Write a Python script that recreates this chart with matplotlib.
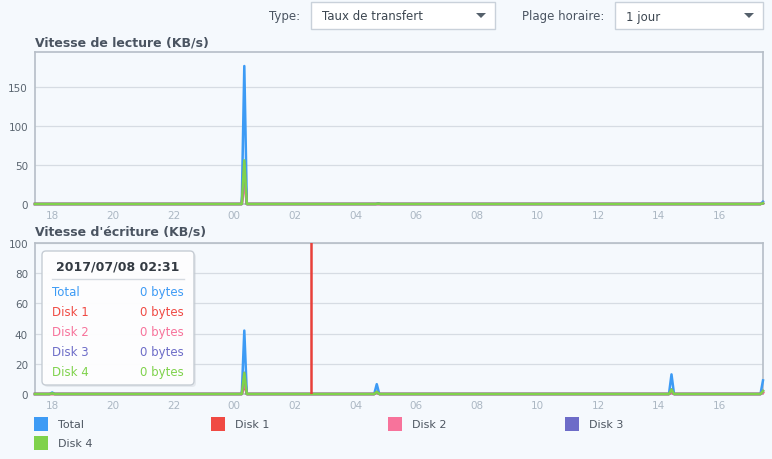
import matplotlib
matplotlib.use("Agg")
import matplotlib.pyplot as plt
from matplotlib.patches import FancyBboxPatch, Rectangle, Polygon

# ---------------- data ----------------
series_names = ["Total", "Disk 1", "Disk 2", "Disk 3", "Disk 4"]
series_colors = ["#3d9bf5", "#f04a43", "#f7739b", "#6d6cc8", "#7fd24b"]

# time stamps: "day HH:MM" (July 7 -> July 8, 2017)
range_start = "07 17:26"
range_end = "08 17:26"

# read speed (KB/s)
read_times = ["07 17:26", "08 00:15", "08 00:20", "08 00:25", "08 04:40", "08 04:45",
              "08 04:50", "08 17:21", "08 17:26"]
read_total = [0, 0, 177, 0, 0, 1, 0, 0, 3]
read_disk1 = [0, 0, 32, 0, 0, 0, 0, 0, 1]
read_disk2 = [0, 0, 30, 0, 0, 0, 0, 0, 1]
read_disk3 = [0, 0, 54, 0, 0, 0, 0, 0, 1]
read_disk4 = [0, 0, 56, 0, 0, 0.5, 0, 0, 1]

# write speed (KB/s)
write_times = ["07 17:26", "07 17:55", "07 18:00", "07 18:05", "08 00:15", "08 00:20",
               "08 00:25", "08 04:37", "08 04:42", "08 04:47", "08 14:20", "08 14:25",
               "08 14:30", "08 17:21", "08 17:26"]
write_total = [0, 0, 1, 0, 0, 42, 0, 0, 6.5, 0, 0, 13, 0, 0, 9]
write_disk1 = [0, 0, 0, 0, 0, 6, 0, 0, 1, 0, 0, 1, 0, 0, 1]
write_disk2 = [0, 0, 0, 0, 0, 8, 0, 0, 1, 0, 0, 1.5, 0, 0, 1]
write_disk3 = [0, 0, 0.5, 0, 0, 14, 0, 0, 1.5, 0, 0, 3, 0, 0, 2]
write_disk4 = [0, 0, 0.5, 0, 0, 14, 0, 0, 1.5, 0, 0, 3, 0, 0, 2]

x_tick_times = ["07 18:00", "07 20:00", "07 22:00", "08 00:00", "08 02:00", "08 04:00",
                "08 06:00", "08 08:00", "08 10:00", "08 12:00", "08 14:00", "08 16:00"]
x_ticks_labels = ["18", "20", "22", "00", "02", "04", "06", "08", "10", "12", "14", "16"]
read_yticks = [0, 50, 100, 150]
write_yticks = [0, 20, 40, 60, 80, 100]

cursor_time = "08 02:31"
tooltip_title = "2017/07/08 02:31"
tooltip_values = ["0 bytes"] * 5


def to_hours(s):
    d, hm = s.split(" ")
    h, m = hm.split(":")
    return (int(d) - 7) * 24 + int(h) + int(m) / 60.0

# ---------------- figure ----------------
W, H = 772, 460
BG = "#f5f9fd"
fig = plt.figure(figsize=(W / 100, H / 100), dpi=100, facecolor=BG)

def ax_rect(l, t, r, b):
    return [l / W, (H - b) / H, (r - l) / W, (b - t) / H]

x_start = to_hours(range_start)
x_end = to_hours(range_end)
tick_pos = [to_hours(s) for s in x_tick_times]

def style_ax(ax, ymax, yticks):
    ax.set_facecolor(BG)
    ax.set_xlim(x_start, x_end)
    ax.set_ylim(0, ymax)
    ax.set_yticks(yticks)
    ax.set_yticklabels([str(v) for v in yticks])
    ax.set_xticks(tick_pos)
    ax.set_xticklabels(x_ticks_labels)
    ax.tick_params(axis="both", length=0)
    ax.tick_params(axis="x", colors="#abb7c3", labelsize=7.5, pad=4)
    ax.tick_params(axis="y", colors="#5a6570", labelsize=7.5, pad=5)
    ax.grid(axis="y", color="#d6dce3", linewidth=0.9)
    ax.set_axisbelow(True)
    for sp in ax.spines.values():
        sp.set_color("#b6bec7")
        sp.set_linewidth(1.2)

ax1 = fig.add_axes(ax_rect(35, 53, 763, 205))
style_ax(ax1, 195, read_yticks)
rt = [to_hours(s) for s in read_times]
for name, vals, col in zip(series_names,
                           [read_total, read_disk1, read_disk2, read_disk3, read_disk4],
                           series_colors):
    ax1.plot(rt, vals, color=col, linewidth=1.8, clip_on=False, zorder=3)

ax2 = fig.add_axes(ax_rect(35, 244, 763, 395))
style_ax(ax2, 100, write_yticks)
wt = [to_hours(s) for s in write_times]
for name, vals, col in zip(series_names,
                           [write_total, write_disk1, write_disk2, write_disk3, write_disk4],
                           series_colors):
    ax2.plot(wt, vals, color=col, linewidth=1.8, clip_on=False, zorder=3)
ax2.axvline(to_hours(cursor_time), color="#e8403a", linewidth=1.8, zorder=5)

# titles
title_kw = dict(fontsize=9, fontweight="bold", color="#4a5461", va="center", ha="left")
fig.text(35 / W, 1 - 43 / H, "Vitesse de lecture (KB/s)", **title_kw)
fig.text(35 / W, 1 - 232 / H, "Vitesse d'écriture (KB/s)", **title_kw)

# ---------------- overlay (UI) ----------------
ov = fig.add_axes([0, 0, 1, 1], zorder=10)
ov.set_xlim(0, W)
ov.set_ylim(H, 0)
ov.axis("off")
ov.patch.set_alpha(0)

def combo(x0, x1, label):
    ov.add_patch(Rectangle((x0, 3), x1 - x0, 27, facecolor="white", edgecolor="#c9d1da", linewidth=1))
    ov.text(x0 + 11, 17, label, fontsize=8.5, color="#3c4650", va="center", ha="left")
    cx = x1 - 14
    ov.add_patch(Polygon([(cx - 5, 14), (cx + 5, 14), (cx, 19)], closed=True,
                         facecolor="#55606b", edgecolor="none"))

ov.text(300, 16.5, "Type:", fontsize=8.5, color="#4a5461", va="center", ha="right")
combo(311, 495, "Taux de transfert")
ov.text(604, 16.5, "Plage horaire:", fontsize=8.5, color="#4a5461", va="center", ha="right")
combo(615, 763, "1 jour")

# tooltip
ov.add_patch(FancyBboxPatch((44, 254), 152, 134, boxstyle="round,pad=0,rounding_size=4",
                            facecolor="#c8cdd3", edgecolor="none", alpha=0.35))
ov.add_patch(FancyBboxPatch((42, 252), 152, 134, boxstyle="round,pad=0,rounding_size=4",
                            facecolor="white", edgecolor="#c3cad2", linewidth=1, alpha=0.95))
ov.text(118, 267, tooltip_title, fontsize=9, fontweight="bold", color="#333a42",
        va="center", ha="center")
ov.plot([52, 184], [280, 280], color="#d5dae0", linewidth=1)
for i, (name, val, col) in enumerate(zip(series_names, tooltip_values, series_colors)):
    y = 293 + 20 * i
    ov.text(52, y, name, fontsize=8.5, color=col, va="center", ha="left")
    ov.text(184, y, val, fontsize=8.5, color=col, va="center", ha="right")

# legend
legend_pos = [(34, 418), (211, 418), (388, 418), (565, 418), (34, 437)]
for (lx, ly), name, col in zip(legend_pos, series_names, series_colors):
    ov.add_patch(Rectangle((lx, ly), 14, 14, facecolor=col, edgecolor="none"))
    ov.text(lx + 24, ly + 7.5, name, fontsize=8, color="#4d5661", va="center", ha="left")

fig.savefig("out.png", dpi=100, facecolor=BG)
